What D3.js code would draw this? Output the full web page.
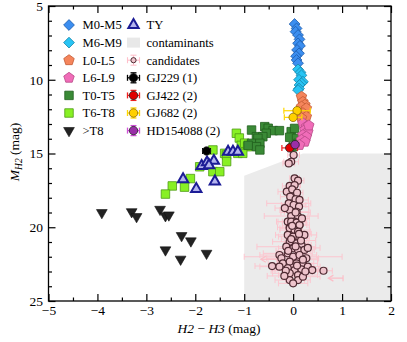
<!DOCTYPE html>
<html>
<head>
<meta charset="utf-8">
<script src="https://cdn.jsdelivr.net/npm/d3@7"></script>
<style>
  body { margin: 0; background: #fff; }
</style>
</head>
<body>
<div id="chart"></div>
<script>
// --- data: H2-H3 colour (x) and M_H2 (y) ---
const m0m5X = [0.03, 0.07, 0.05, 0.10, 0.13, 0.10, 0.14, 0.08, 0.12, 0.06, 0.07, 0.10];
const m0m5Y = [6.22, 6.52, 6.74, 6.97, 7.26, 7.53, 7.70, 7.98, 8.21, 8.40, 8.66, 8.88];
const m6m9X = [0.10, 0.15, 0.17, 0.12, 0.20, 0.17, 0.13, 0.12, 0.10];
const m6m9Y = [9.30, 9.50, 9.70, 10.00, 10.13, 10.24, 10.36, 10.60, 10.70];
const l0l5X = [0.17, 0.20, 0.24, 0.17, 0.27, 0.20, 0.27, 0.17];
const l0l5Y = [11.15, 11.50, 11.70, 11.83, 11.94, 12.27, 12.50, 12.60];
const l6l9X = [0.20, 0.27, 0.24, 0.30, 0.20, 0.27, 0.17, 0.24, 0.13, 0.32];
const l6l9Y = [12.95, 13.18, 13.40, 13.52, 13.75, 13.86, 14.08, 14.20, 14.42, 13.10];
const t0t5X = [-0.85, -0.58, -0.51, -0.41, -0.28, -0.55, -0.75, -0.62, -0.72, -0.85, -0.68, -0.75, -0.68, -0.04, 0.03, -0.07, 0.07, 0.00, 0.10, -0.92];
const t0t5Y = [13.41, 13.18, 13.29, 13.45, 13.45, 13.63, 13.86, 13.86, 13.97, 14.31, 14.31, 14.54, 14.76, 13.52, 13.30, 13.90, 13.97, 14.54, 14.31, 14.45];
const t6t8X = [-1.16, -1.10, -1.06, -0.99, -0.93, -1.13, -1.03, -1.40, -1.36, -1.36, -1.64, -1.64, -1.50, -1.91, -2.10, -2.22, -2.47, -2.61];
const t6t8Y = [13.63, 13.95, 14.45, 14.30, 14.54, 14.99, 14.99, 14.99, 15.10, 15.55, 14.76, 16.23, 16.23, 15.90, 16.70, 17.28, 17.20, 17.75];
const tyX = [-1.33, -1.23, -1.13, -1.87, -1.76, -1.62, -1.72, -2.25, -1.98, -1.60];
const tyY = [14.88, 14.88, 14.88, 15.85, 15.60, 15.50, 15.80, 16.75, 17.40, 16.90];
const gtT8X = [-3.91, -3.30, -3.20, -2.72, -2.61, -2.54, -2.28, -2.09, -2.61, -2.30, -1.77];
const gtT8Y = [19.01, 18.95, 19.28, 18.79, 19.22, 19.17, 20.57, 20.93, 21.54, 22.17, 21.77];

const candX = [0.01, -0.04, -0.09, 0.03, 0.10, -0.07, 0.03, -0.13, -0.02, 0.08, -0.06, 0.05, 0.13, -0.09, 0.01, 0.12,
  -0.07, 0.07, -0.04, 0.10, 0.05, -0.11, 0.03, 0.13, -0.07, -0.04, 0.07, 0.13, -0.07, 0.03, 0.10, -0.11, 0.00, 0.13, 0.23,
  -0.07, 0.07, 0.17, -0.14, 0.00, 0.10, 0.23, -0.28, -0.24, -0.11, 0.00, 0.13, 0.27, -0.21, -0.07, 0.07, 0.20, -0.43, -0.28,
  -0.11, 0.03, 0.17, 0.30, 0.39, 0.62, -0.07, 0.10, -0.07, 0.10, 0.20, -0.02, 0.16, -0.10, 0.20, -0.15, 0.25, 0.05, 0.12,
  -0.04, 0.08, -0.18, 0.00, 0.30, 0.18, -0.17];
const candY = [15.10, 15.56, 15.67, 16.68, 16.84, 17.20, 17.14, 17.59, 17.43, 17.66, 17.93, 18.10, 18.15, 18.38, 18.49, 18.60,
  18.83, 18.95, 19.24, 19.28, 19.00, 19.62, 19.62, 19.85, 20.00, 19.62, 19.69, 19.85, 20.07, 20.19, 20.30, 20.52, 20.64, 20.75, 20.52,
  20.98, 21.09, 21.20, 21.32, 21.43, 21.54, 21.54, 21.88, 22.10, 21.77, 22.00, 21.88, 22.10, 22.45, 22.33, 22.45, 22.45, 22.63, 22.67,
  22.78, 22.90, 22.85, 22.67, 22.90, 22.95, 23.12, 23.24, 23.58, 23.58, 23.35, 19.90, 20.90, 21.60, 22.20, 22.95, 23.00, 21.30, 20.45,
  20.80, 22.60, 23.30, 23.80, 21.40, 19.40, 18.70];
const candXerr = [0.12, 0.15, 0.12, 0.10, 0.12, 0.15, 0.12, 0.18, 0.15, 0.12, 0.20, 0.15, 0.18, 0.45, 0.25, 0.20,
  0.20, 0.25, 0.55, 0.20, 0.30, 0.20, 0.25, 0.20, 0.25, 0.30, 0.20, 0.15, 0.20, 0.30, 0.25, 0.25, 0.30, 0.20, 0.25,
  0.35, 0.25, 0.20, 0.60, 0.30, 0.25, 0.20, 0.40, 0.30, 0.50, 1.00, 0.35, 0.25, 0.30, 0.25, 0.35, 0.30, 0.35, 0.40,
  0.30, 0.40, 0.35, 0.25, 0.30, 0.18, 0.35, 0.40, 0.30, 0.25, 0.35, 0.20, 0.30, 0.25, 0.30, 0.30, 0.25, 0.20, 0.25,
  0.20, 0.30, 0.35, 0.30, 0.25, 0.15, 0.20];
// upper limits drawn as arrows pointing to bluer colour: start x, end x, M
const limX0 = [1.02, -0.33];
const limX1 = [0.72, -0.66];
const limY = [23.45, 22.17];

const benchNames = ["GJ229 (1)", "GJ422 (2)", "GJ682 (2)", "GJ682 (2)", "HD154088 (2)"];
const benchX = [-1.77, -0.07, 0.08, 0.00, 0.04];
const benchY = [14.83, 14.62, 12.10, 12.55, 14.40];
const benchXerr = [0.08, 0.16, 0.27, 0.18, 0.08];
const benchYerr = [0.10, 0.10, 0.10, 0.10, 0.10];

// contaminant region (gray)
const contX = [-1, -1, 0.2, 2, 2];
const contY = [25, 16.5, 15, 15, 25];

const FONT = "'Liberation Serif', 'DejaVu Serif', serif";
const width = 407, height = 342;
const svg = d3.select("#chart").append("svg")
  .attr("width", width).attr("height", height);

const x = d3.scaleLinear().domain([-5, 2]).range([48.5, 391]);
const y = d3.scaleLinear().domain([5, 25]).range([6, 301]);

const plot = svg.append("g");

// contaminants
plot.append("path")
  .attr("d", d3.line()(contX.map((v, i) => [x(v), y(contY[i])])) + "Z")
  .attr("fill", "#ebebeb");

// marker shapes
const pentagon = r => {
  const pts = d3.range(5).map(k => {
    const a = -Math.PI / 2 + k * 2 * Math.PI / 5;
    return [r * Math.cos(a), r * Math.sin(a)];
  });
  return "M" + pts.join("L") + "Z";
};
const diamond = r => `M0,${-r}L${r},0L0,${r}L${-r},0Z`;
const square = s => `M${-s / 2},${-s / 2}h${s}v${s}h${-s}Z`;
const triUp = d3.symbol(d3.symbolTriangle, 46)();
const triDown = d3.symbol(d3.symbolTriangle, 50)();

const styles = {
  m0m5: { d: diamond(5.4), fill: "#3b8ef0", stroke: "#1d5aa8", sw: 0.8 },
  m6m9: { d: diamond(5.4), fill: "#28c4f4", stroke: "#1784a8", sw: 0.8 },
  l0l5: { d: pentagon(5.5), fill: "#f5855c", stroke: "#c45a34", sw: 0.8 },
  l6l9: { d: pentagon(5.5), fill: "#f06cb8", stroke: "#b84a88", sw: 0.8 },
  t0t5: { d: square(8.5), fill: "#3a8a36", stroke: "#22601e", sw: 0.8 },
  t6t8: { d: square(8.5), fill: "#88f024", stroke: "#4e9a14", sw: 0.8 },
  gtT8: { d: triDown, fill: "#222", stroke: "#111", sw: 0.6, rot: 180 },
  ty:   { d: triUp, fill: "#b4b4ee", stroke: "#1c1c96", sw: 2 }
};

function drawSeries(xs, ys, st) {
  plot.append("g").selectAll("path")
    .data(xs.map((v, i) => [v, ys[i]]))
    .join("path")
    .attr("d", st.d)
    .attr("transform", d => `translate(${x(d[0])},${y(d[1])})` + (st.rot ? ` rotate(${st.rot})` : ""))
    .attr("fill", st.fill)
    .attr("stroke", st.stroke)
    .attr("stroke-width", st.sw);
}

function errBar(g, cx, cy, dx, dy, color, sw) {
  const cap = 3;
  g.append("line").attr("x1", cx - dx).attr("x2", cx + dx).attr("y1", cy).attr("y2", cy)
    .attr("stroke", color).attr("stroke-width", sw);
  g.append("line").attr("x1", cx - dx).attr("x2", cx - dx).attr("y1", cy - cap).attr("y2", cy + cap)
    .attr("stroke", color).attr("stroke-width", sw);
  g.append("line").attr("x1", cx + dx).attr("x2", cx + dx).attr("y1", cy - cap).attr("y2", cy + cap)
    .attr("stroke", color).attr("stroke-width", sw);
  if (dy > 0) {
    g.append("line").attr("x1", cx).attr("x2", cx).attr("y1", cy - dy).attr("y2", cy + dy)
      .attr("stroke", color).attr("stroke-width", sw);
    g.append("line").attr("x1", cx - cap).attr("x2", cx + cap).attr("y1", cy - dy).attr("y2", cy - dy)
      .attr("stroke", color).attr("stroke-width", sw);
    g.append("line").attr("x1", cx - cap).attr("x2", cx + cap).attr("y1", cy + dy).attr("y2", cy + dy)
      .attr("stroke", color).attr("stroke-width", sw);
  }
}

// candidates: error bars first
const candErr = plot.append("g").attr("opacity", 0.85);
candX.forEach((v, i) => {
  const px = x(v), py = y(candY[i]);
  errBar(candErr, px, py, x(v + candXerr[i]) - px, y(candY[i] + 0.15) - py, "#ffc0cb", 1);
});
limX0.forEach((v, i) => {
  const py = y(limY[i]), x0 = x(v), x1 = x(limX1[i]);
  candErr.append("line").attr("x1", x0).attr("x2", x1).attr("y1", py).attr("y2", py)
    .attr("stroke", "#ffb6c1").attr("stroke-width", 1.2);
  candErr.append("path").attr("d", `M${x1 + 5},${py - 3}L${x1},${py}L${x1 + 5},${py + 3}`)
    .attr("fill", "none").attr("stroke", "#ffb6c1").attr("stroke-width", 1.2);
  candErr.append("line").attr("x1", x0).attr("x2", x0).attr("y1", py - 3).attr("y2", py + 3)
    .attr("stroke", "#ffb6c1").attr("stroke-width", 1.2);
});

plot.append("g").selectAll("circle")
  .data(candX.map((v, i) => [v, candY[i]]))
  .join("circle")
  .attr("cx", d => x(d[0])).attr("cy", d => y(d[1]))
  .attr("r", 3.5)
  .attr("fill", "#eec4cc").attr("stroke", "#4e2a32").attr("stroke-width", 1.2);

// spectral sequences
drawSeries(t6t8X, t6t8Y, styles.t6t8);
drawSeries(t0t5X, t0t5Y, styles.t0t5);
drawSeries(gtT8X, gtT8Y, styles.gtT8);
drawSeries(tyX, tyY, styles.ty);
drawSeries(m0m5X, m0m5Y, styles.m0m5);
drawSeries(m6m9X, m6m9Y, styles.m6m9);
drawSeries(l0l5X, l0l5Y, styles.l0l5);
drawSeries(l6l9X, l6l9Y, styles.l6l9);

// benchmark companions
const benchStyle = {
  "GJ229 (1)": { fill: "#000", bar: "#000" },
  "GJ422 (2)": { fill: "#e00000", bar: "#f02020" },
  "GJ682 (2)": { fill: "#ffd000", bar: "#ffd700", stroke: "#8a6a00" },
  "HD154088 (2)": { fill: "#9a2ea8", bar: "#d050d8" }
};
const bench = plot.append("g");
benchX.forEach((v, i) => {
  const st = benchStyle[benchNames[i]];
  const px = x(v), py = y(benchY[i]);
  errBar(bench, px, py, x(v + benchXerr[i]) - px, y(benchY[i] + benchYerr[i]) - py, st.bar, 1.2);
});
benchX.forEach((v, i) => {
  const st = benchStyle[benchNames[i]];
  bench.append("circle").attr("cx", x(v)).attr("cy", y(benchY[i])).attr("r", 4.2)
    .attr("fill", st.fill).attr("stroke", st.stroke || "#222").attr("stroke-width", 0.8);
});

// --- axes: inward ticks on all four sides ---
const majX = d3.range(-5, 2.01, 1), minX = d3.range(-4.5, 2, 1);
const majY = d3.range(5, 25.01, 5), minY = d3.range(5, 25.01, 1).filter(v => v % 5 !== 0);

const fmt = d3.format("d");
const axes = [
  { ax: d3.axisBottom(x), at: `translate(0,${y(25)})`, maj: majX, min: minX, lab: true, dir: "x" },
  { ax: d3.axisTop(x), at: `translate(0,${y(5)})`, maj: majX, min: minX, lab: false, dir: "x" },
  { ax: d3.axisLeft(y), at: `translate(${x(-5)},0)`, maj: majY, min: minY, lab: true, dir: "y" },
  { ax: d3.axisRight(y), at: `translate(${x(2)},0)`, maj: majY, min: minY, lab: false, dir: "y" }
];
axes.forEach(a => {
  const gMaj = svg.append("g").attr("transform", a.at)
    .call(a.ax.tickValues(a.maj).tickSize(-7).tickPadding(a.dir === "x" ? 4.5 : 5.5)
      .tickFormat(a.lab ? fmt : () => ""));
  const gMin = svg.append("g").attr("transform", a.at)
    .call(a.ax.tickValues(a.min).tickSize(-3.5).tickFormat(() => ""));
  [gMaj, gMin].forEach(g => {
    g.select(".domain").remove();
    g.selectAll("line").attr("stroke", "#000").attr("stroke-width", 1.2);
  });
  gMaj.selectAll("text").attr("font-size", 13.5).attr("fill", "#000");
});

svg.append("rect")
  .attr("x", x(-5)).attr("y", y(5))
  .attr("width", x(2) - x(-5)).attr("height", y(25) - y(5))
  .attr("fill", "none").attr("stroke", "#000").attr("stroke-width", 1.3);

// axis labels
const xl = svg.append("text").attr("x", 219).attr("y", 333)
  .attr("text-anchor", "middle").attr("font-size", 13.5);
xl.append("tspan").attr("font-style", "italic").text("H2");
xl.append("tspan").text(" − ");
xl.append("tspan").attr("font-style", "italic").text("H3");
xl.append("tspan").text(" (mag)");

const yl = svg.append("text")
  .attr("transform", "translate(19,152) rotate(-90)")
  .attr("text-anchor", "middle").attr("font-size", 13.5);
yl.append("tspan").attr("font-style", "italic").text("M");
yl.append("tspan").attr("font-style", "italic").attr("font-size", 9.5).attr("dy", 3).text("H2");
yl.append("tspan").attr("dy", -3).text(" (mag)");

// --- legend ---
const legCol1 = ["M0-M5", "M6-M9", "L0-L5", "L6-L9", "T0-T5", "T6-T8", ">T8"];
const legCol2 = ["TY", "contaminants", "candidates", "GJ229 (1)", "GJ422 (2)", "GJ682 (2)", "HD154088 (2)"];
const col1Style = [styles.m0m5, styles.m6m9, styles.l0l5, styles.l6l9, styles.t0t5, styles.t6t8, styles.gtT8];
const leg = svg.append("g");
const rowY = i => 25 + i * 17.6;

legCol1.forEach((name, i) => {
  const st = col1Style[i];
  leg.append("path").attr("d", st.d)
    .attr("transform", `translate(69,${rowY(i)})` + (st.rot ? " rotate(180)" : ""))
    .attr("fill", st.fill).attr("stroke", st.stroke).attr("stroke-width", st.sw);
  leg.append("text").attr("x", 82.5).attr("y", rowY(i) + 4.4).attr("font-size", 12.6).text(name);
});

legCol2.forEach((name, i) => {
  const cy = rowY(i), cx = 133.5;
  if (name === "TY") {
    leg.append("path").attr("d", styles.ty.d).attr("transform", `translate(${cx},${cy})`)
      .attr("fill", styles.ty.fill).attr("stroke", styles.ty.stroke).attr("stroke-width", styles.ty.sw);
  } else if (name === "contaminants") {
    leg.append("rect").attr("x", cx - 6.5).attr("y", cy - 5).attr("width", 13).attr("height", 10)
      .attr("fill", "#e8e8e8");
  } else if (name === "candidates") {
    errBar(leg, cx, cy, 6, 5, "#ffc0cb", 1.1);
    leg.append("circle").attr("cx", cx).attr("cy", cy).attr("r", 2.6)
      .attr("fill", "#eec4cc").attr("stroke", "#4e2a32").attr("stroke-width", 1);
  } else {
    const st = benchStyle[name];
    errBar(leg, cx, cy, 6, 5, st.bar, 1.3);
    leg.append("circle").attr("cx", cx).attr("cy", cy).attr("r", 4.2)
      .attr("fill", st.fill).attr("stroke", st.stroke || "#222").attr("stroke-width", 0.8);
  }
  leg.append("text").attr("x", 146.5).attr("y", cy + 4.4).attr("font-size", 12.6).text(name);
});

// serif everywhere, set inline so the axis defaults don't win
svg.selectAll("text").style("font-family", FONT).style("fill", "#000");
</script>
</body>
</html>
